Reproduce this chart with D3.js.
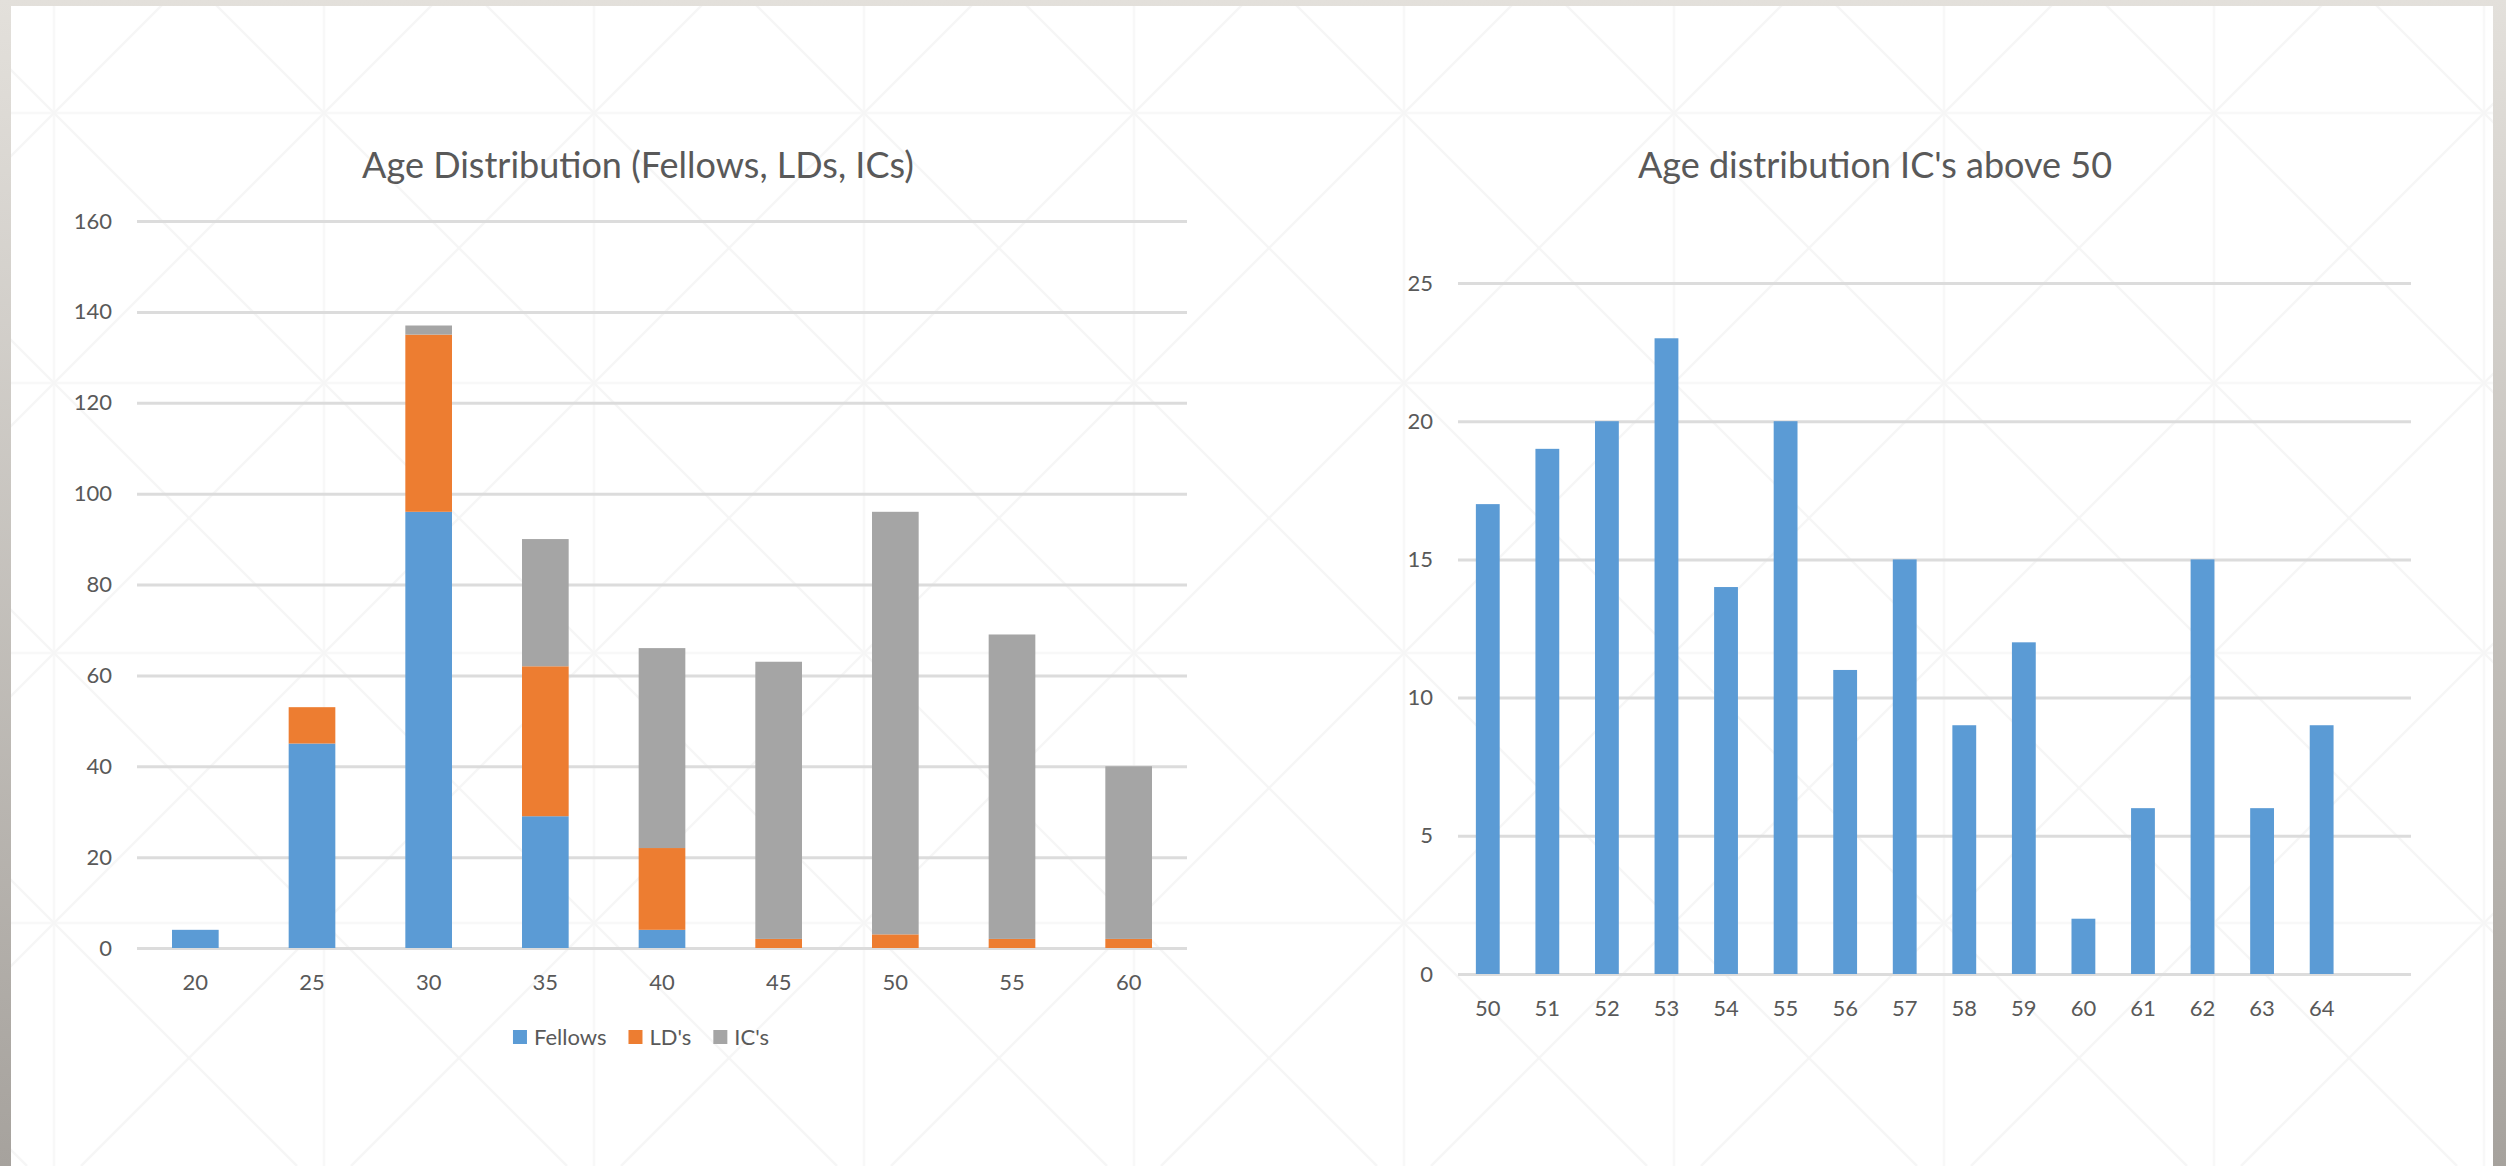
<!DOCTYPE html>
<html>
<head>
<meta charset="utf-8">
<script src="https://cdn.jsdelivr.net/npm/d3@7"></script>
<style>
  html, body { margin: 0; padding: 0; background: #d8d4cf; }
  svg { display: block; }
  text { font-family: Lato, "Open Sans", sans-serif; fill: #595959; }
</style>
</head>
<body>
<svg id="chart" width="2506" height="1166"></svg>
<script>
'use strict';

// left chart data
var ageGroups   = ['20', '25', '30', '35', '40', '45', '50', '55', '60'];
var fellows     = [4, 45, 96, 29, 4, 0, 0, 0, 0];
var lds         = [0, 8, 39, 33, 18, 2, 3, 2, 2];
var ics         = [0, 0, 2, 28, 44, 61, 93, 67, 38];
var seriesNames = ['Fellows', "LD's", "IC's"];
var leftTicks   = [0, 20, 40, 60, 80, 100, 120, 140, 160];

// right chart data
var ages50      = ['50', '51', '52', '53', '54', '55', '56', '57', '58', '59', '60', '61', '62', '63', '64'];
var icsAbove50  = [17, 19, 20, 23, 14, 20, 11, 15, 9, 12, 2, 6, 15, 6, 9];
var rightTicks  = [0, 5, 10, 15, 20, 25];

var colors = ['#5b9bd5', '#ed7d31', '#a5a5a5'];

var W = 2506, H = 1166;
var svg = d3.select('#chart');

// backdrop around the slide
var defs = svg.append('defs');
var bg = defs.append('linearGradient').attr('id', 'bg').attr('x1', 0).attr('y1', 0).attr('x2', 0).attr('y2', 1);
bg.append('stop').attr('offset', '0%').attr('stop-color', '#e3e0db');
bg.append('stop').attr('offset', '100%').attr('stop-color', '#a6a29d');
defs.append('clipPath').attr('id', 'card')
	.append('rect').attr('x', 11).attr('y', 6).attr('width', 2482).attr('height', H);

svg.append('rect').attr('width', W).attr('height', H).attr('fill', 'url(#bg)');
svg.append('rect').attr('x', 11).attr('y', 6).attr('width', 2482).attr('height', H + 10).attr('fill', '#ffffff');

// faint triangle pattern on the slide
var pat = svg.append('g').attr('clip-path', 'url(#card)');
var step = 270, ox = 54, oy = 113;
for (var i = -1; i < 11; i++){
	pat.append('line').attr('x1', ox + i * step).attr('x2', ox + i * step).attr('y1', 0).attr('y2', H)
		.attr('stroke', '#f8f8f8').attr('stroke-width', 2.5);
}
for (var j = -1; j < 6; j++){
	pat.append('line').attr('x1', 0).attr('x2', W).attr('y1', oy + j * step).attr('y2', oy + j * step)
		.attr('stroke', '#f8f8f8').attr('stroke-width', 2.5);
}
for (var k = -8; k < 16; k++){
	var c1 = (ox - oy) + k * step;
	pat.append('line').attr('x1', c1).attr('y1', 0).attr('x2', c1 + H).attr('y2', H)
		.attr('stroke', '#f6f6f6').attr('stroke-width', 2.5);
	var c2 = (ox + oy) + k * step;
	pat.append('line').attr('x1', c2).attr('y1', 0).attr('x2', c2 - H).attr('y2', H)
		.attr('stroke', '#f6f6f6').attr('stroke-width', 2.5);
}

// shared styling for a value axis with gridlines
function gridAxis(g, scale, ticks, left, right){
	g.attr('transform', 'translate(' + left + ',0)')
		.call(d3.axisLeft(scale).tickValues(ticks).tickSize(-(right - left)).tickPadding(25));
	g.select('.domain').remove();
	g.selectAll('.tick line').attr('stroke', '#dcdcdc').attr('stroke-width', 3);
	g.selectAll('.tick text').style('font-size', '22px').attr('fill', '#595959');
}

function catAxis(g, scale, y){
	g.attr('transform', 'translate(0,' + y + ')')
		.call(d3.axisBottom(scale).tickSize(0).tickPadding(0));
	g.select('.domain').remove();
	g.selectAll('.tick text').style('font-size', '22px').attr('fill', '#595959').attr('dy', '0.35em');
}

/**
 * stacked age distribution
 */
var barChart = function(){
	var x0 = 137, x1 = 1187;
	var x = d3.scaleBand().domain(ageGroups).range([x0, x1]).paddingInner(0.6).paddingOuter(0.3);
	var y = d3.scaleLinear().domain([0, 160]).range([948, 221]);

	svg.append('text').attr('x', 638).attr('y', 165).attr('text-anchor', 'middle')
		.attr('dy', '0.35em').style('font-size', '36px').text('Age Distribution (Fellows, LDs, ICs)');

	gridAxis(svg.append('g'), y, leftTicks, x0, x1);

	var rows = ageGroups.map(function(a, i){
		return { age: a, Fellows: fellows[i], "LD's": lds[i], "IC's": ics[i] };
	});
	var stack = d3.stack().keys(seriesNames)(rows);

	svg.append('g').selectAll('g')
		.data(stack)
		.enter()
		.append('g')
		.attr('fill', function(d, i){ return colors[i]; })
		.selectAll('rect')
		.data(function(d){ return d; })
		.enter()
		.append('rect')
		.attr('x', function(d){ return x(d.data.age); })
		.attr('width', x.bandwidth())
		.attr('y', function(d){ return y(d[1]); })
		.attr('height', function(d){ return y(d[0]) - y(d[1]); });

	catAxis(svg.append('g'), x, 982);

	// legend
	var legend = svg.append('g');
	var cx = 0;
	seriesNames.forEach(function(name, i){
		var item = legend.append('g').attr('transform', 'translate(' + cx + ',0)');
		item.append('rect').attr('x', 0).attr('y', -7).attr('width', 14).attr('height', 14).attr('fill', colors[i]);
		var t = item.append('text').attr('x', 21).attr('dy', '0.35em').style('font-size', '22px').text(name);
		cx += 21 + t.node().getComputedTextLength() + 22;
	});
	cx -= 22;
	legend.attr('transform', 'translate(' + (641 - cx / 2) + ',1037)');
};

/**
 * ICs above 50
 */
var columnChart = function(){
	var x0 = 1458, x1 = 2411;
	var slot = (x1 - x0) / (ages50.length + 1);
	var x = d3.scaleBand().domain(ages50).range([x0, x0 + slot * ages50.length]).paddingInner(0.6).paddingOuter(0.3);
	var y = d3.scaleLinear().domain([0, 25]).range([974, 283]);

	svg.append('text').attr('x', 1875).attr('y', 165).attr('text-anchor', 'middle')
		.attr('dy', '0.35em').style('font-size', '36px').text("Age distribution IC's above 50");

	gridAxis(svg.append('g'), y, rightTicks, x0, x1);

	svg.append('g').selectAll('rect')
		.data(icsAbove50)
		.enter()
		.append('rect')
		.attr('fill', colors[0])
		.attr('x', function(d, i){ return x(ages50[i]); })
		.attr('width', x.bandwidth())
		.attr('y', function(d){ return y(d); })
		.attr('height', function(d){ return y(0) - y(d); });

	catAxis(svg.append('g'), x, 1008);
};

barChart();
columnChart();
</script>
</body>
</html>
